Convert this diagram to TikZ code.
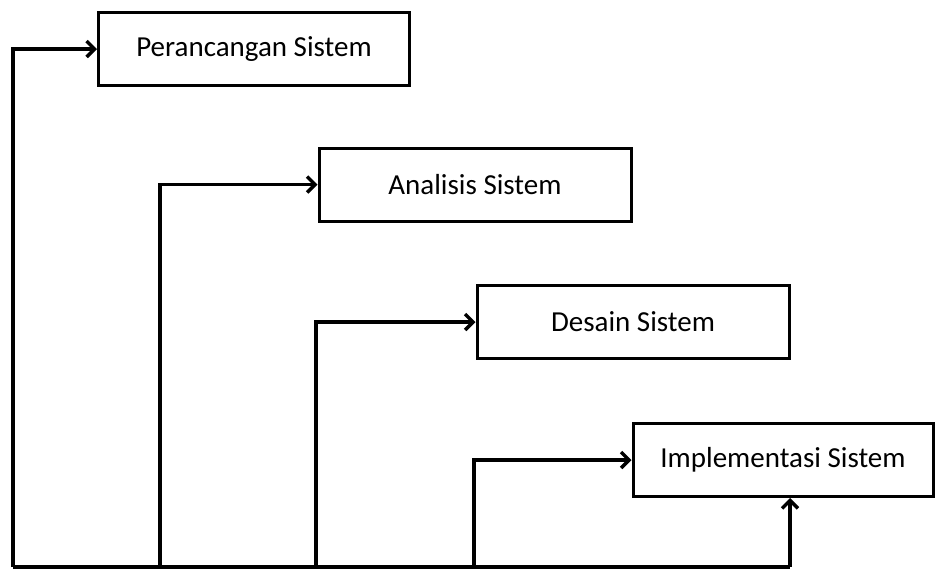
\documentclass[tikz,border=0pt]{standalone}
\usepackage{fontspec}
\setmainfont{Carlito}
\usetikzlibrary{arrows.meta}
\begin{document}
\begin{tikzpicture}[x=1pt, y=-1pt, every node/.style={font=\fontsize{29}{34}\selectfont, inner sep=0pt},
    box/.style={draw, line width=3pt, rectangle, minimum height=73pt},
    link/.style={line width=3.5pt},
    linkto/.style={line width=3.5pt, -{Straight Barb[length=8pt,width=16pt,line width=3.5pt]}}]
  \useasboundingbox (0,0) rectangle (935,568);
          \node [box,minimum width=311pt] (a) at (254,49) {Perancangan Sistem};
          \node [box,minimum width=312pt] (b) at (475,184.5) {Analisis Sistem};
          \node [box,minimum width=312pt] (c) at (633,322) {Desain Sistem};
          \node [box,minimum width=300pt] (d) at (783,460) {Implementasi Sistem};
          \coordinate (p0) at (13,567);
          \coordinate (p1) at (160,567);
          \coordinate (p2) at (316,567);
          \coordinate (p3) at (474,567);
          \coordinate (p4) at (790,567);
            \draw [link] (p0) -- (p4);
            \draw [linkto] (p0) |- (a.west);
            \draw [linkto] (p1) |- (b.west);
            \draw [linkto] (p2) |- (c.west);
            \draw [linkto] (p3) |- (d.west);
            \draw [linkto] (p4) -- (p4 |- d.south);
\end{tikzpicture}
\end{document}
